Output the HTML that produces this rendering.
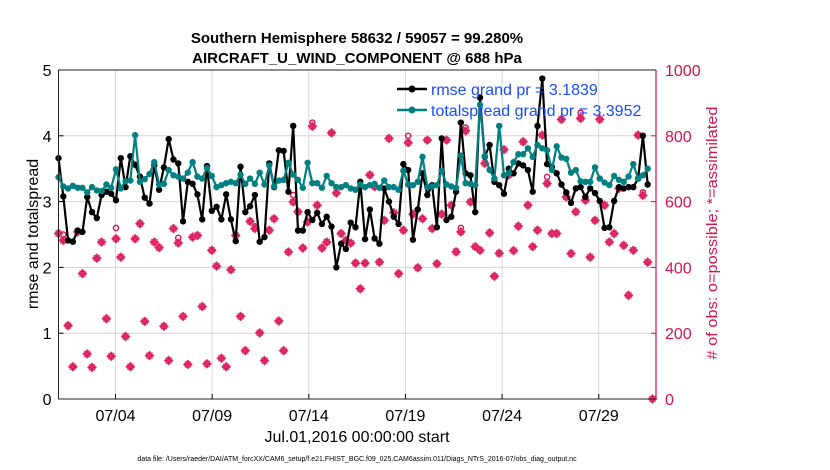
<!DOCTYPE html>
<html><head><meta charset="utf-8"><style>
html,body{margin:0;padding:0;background:#fff;}
svg{display:block;font-family:"Liberation Sans",Arial,sans-serif;}
</style></head><body>
<svg id="chart" width="830" height="470" viewBox="0 0 830 470" xmlns="http://www.w3.org/2000/svg">
<text x="357" y="43" text-anchor="middle" font-size="15" font-weight="bold">Southern Hemisphere 58632 / 59057 = 99.280%</text>
<text x="357" y="63" text-anchor="middle" font-size="15" font-weight="bold">AIRCRAFT_U_WIND_COMPONENT @ 688 hPa</text>
<g id="grid"></g>
<g id="obs"></g>
<g id="lines"></g>
<g id="axes"></g>
<text transform="translate(38,234) rotate(-90)" text-anchor="middle" font-size="16">rmse and totalspread</text>
<text transform="translate(717,233) rotate(-90)" text-anchor="middle" font-size="15" textLength="253" lengthAdjust="spacingAndGlyphs" fill="#d6124f"># of obs: o=possible; *=assimilated</text>
<text x="357" y="442" text-anchor="middle" font-size="16">Jul.01,2016 00:00:00 start</text>
<text x="357" y="461" text-anchor="middle" font-size="7">data file: /Users/raeder/DAI/ATM_forcXX/CAM6_setup/f.e21.FHIST_BGC.f09_025.CAM6assim.011/Diags_NTrS_2016-07/obs_diag_output.nc</text>
<g>
<line x1="397" y1="89" x2="427" y2="89" stroke="#000" stroke-width="2.5"/>
<circle cx="412" cy="89" r="3.5" fill="#000"/>
<text x="431" y="95" font-size="16" fill="#1a4cff">rmse grand pr = 3.1839</text>
<line x1="397" y1="110" x2="427" y2="110" stroke="#008080" stroke-width="2.5"/>
<circle cx="412" cy="110" r="3.5" fill="#008080"/>
<text x="431" y="116" font-size="16" fill="#1a4cff">totalspread grand pr = 3.3952</text>
</g>
</svg>
<script>
const rmse = [3.66,3.08,2.41,2.39,2.56,2.54,3.07,2.84,2.75,3.10,3.15,3.12,3.02,3.66,3.22,3.69,3.56,3.38,3.06,2.97,3.55,3.18,3.52,3.95,3.64,3.58,2.70,3.30,3.27,3.11,2.73,3.54,2.86,2.92,2.73,3.11,2.73,2.40,3.53,2.84,2.93,3.10,2.39,2.46,3.58,3.22,3.78,3.77,3.15,4.15,2.56,2.56,2.84,2.72,2.83,2.66,2.77,2.62,2.00,
2.36,2.28,2.68,2.61,3.30,2.43,2.88,2.44,2.36,3.20,3.00,2.77,2.66,3.57,3.48,2.42,2.88,3.43,3.10,3.25,2.61,3.96,2.72,2.77,3.15,4.20,3.43,3.40,2.84,4.58,3.68,3.86,3.30,3.25,3.12,3.50,3.43,3.58,3.55,3.48,3.15,4.15,4.87,3.57,3.53,3.43,3.26,3.14,2.98,3.20,3.22,3.07,3.20,3.13,3.01,2.60,2.61,3.01,3.22,3.20,3.22,3.22,3.35,4.00,3.26];
const spread = [3.37,3.23,3.20,3.24,3.21,3.21,3.14,3.22,3.17,3.16,3.26,3.21,3.49,3.20,3.31,3.32,4.01,3.30,3.34,3.42,3.60,3.26,3.27,3.48,3.40,3.38,3.35,3.44,3.60,3.38,3.35,3.51,3.39,3.22,3.25,3.28,3.30,3.28,3.41,3.27,3.35,3.27,3.44,3.26,3.55,3.23,3.32,3.33,3.59,3.41,3.33,3.21,3.59,3.28,3.28,3.21,3.39,3.28,3.22,
3.22,3.25,3.20,3.18,3.26,3.22,3.25,3.27,3.21,3.32,3.22,3.22,3.18,3.47,3.26,3.25,3.30,3.68,3.22,3.23,3.25,3.47,3.26,3.23,3.21,3.70,3.28,3.27,3.25,4.47,3.69,3.48,3.35,4.15,3.40,3.43,3.60,3.72,3.72,3.81,3.68,3.86,3.81,3.78,3.48,3.84,3.67,3.65,3.44,3.48,3.31,3.30,3.30,3.52,3.35,3.29,3.25,3.39,3.33,3.30,3.38,3.57,3.35,3.40,3.50];
const assimilated = [503,482,223,98,508,381,137,96,428,477,244,130,487,431,190,98,487,533,236,132,477,460,221,117,518,474,251,105,492,497,281,107,452,404,124,98,393,497,251,147,540,518,201,117,513,548,237,147,447,599,569,459,538,829,589,459,477,809,626,
503,482,474,413,335,413,681,645,416,543,792,566,381,513,779,562,399,548,787,518,411,562,787,589,447,508,815,599,463,452,716,505,373,443,758,681,451,525,782,589,463,513,802,655,503,503,850,614,442,569,853,604,431,543,850,589,477,503,640,467,315,452,802,619,416,0];
const possible = [505,500,223,98,508,381,137,96,428,477,244,130,520,431,190,98,487,533,236,132,477,460,221,117,518,490,251,105,492,497,281,107,452,404,124,98,393,497,251,147,540,525,201,117,513,548,237,147,447,620,569,459,538,840,589,459,477,809,626,
503,482,474,413,335,413,681,645,416,543,792,566,381,513,800,562,399,548,787,518,411,562,787,589,450,520,825,599,463,452,716,505,373,443,758,681,451,525,782,589,463,513,802,675,503,503,850,614,442,569,870,604,431,543,850,589,477,503,640,467,315,452,802,628,416,0];
const leftTicks = [0,1,2,3,4,5];
const rightTicks = [0,200,400,600,800,1000];
const xTickDays = [3,8,13,18,23,28];
const xTickLabels = ["07/04","07/09","07/14","07/19","07/24","07/29"];

const X0 = 58.5, X1 = 656, Y0 = 399, Y1 = 70;
const DAY = 19.33;
const STEP = 4.79;
function xIdx(i){ return X0 + i*STEP; }
function xDay(d){ return 57.5 + d*DAY; }
function yL(v){ return Y0 - (v/5)*(Y0-Y1); }
function yR(v){ return Y0 - (v/1000)*(Y0-Y1); }
const NS = "http://www.w3.org/2000/svg";
function mk(tag, attrs, parent){ const e=document.createElementNS(NS,tag); for(const k in attrs) e.setAttribute(k,attrs[k]); parent.appendChild(e); return e; }

const grid = document.getElementById('grid');
const axes = document.getElementById('axes');
const obs = document.getElementById('obs');
const lines = document.getElementById('lines');

leftTicks.forEach((t,i)=>{
  if(t>0 && t<5){
    const g = mk('line',{x1:X0,x2:X1,y1:yL(t),y2:yL(t),stroke:'#ecc8d6','stroke-width':1},grid);
    
    
  }
  const tk = mk('line',{x1:X0,x2:X0+5,y1:yL(t),y2:yL(t),stroke:'#000'},axes);
  
  
  const tl = mk('text',{x:X0-7,y:yL(t)+6,'text-anchor':'end','font-size':16},axes);
  tl.textContent = t;
  
  
});
rightTicks.forEach(t=>{
  const tk = mk('line',{x1:X1-5,x2:X1,y1:yR(t),y2:yR(t),stroke:'#d6124f'},axes);
  
  
  const tl = mk('text',{x:X1+9,y:yR(t)+6,'font-size':16,fill:'#d6124f'},axes);
  tl.textContent = t;
  
  
});
xTickDays.forEach((d,i)=>{
  const x = xDay(d);
  const g = mk('line',{x1:x,x2:x,y1:Y1,y2:Y0,stroke:'#d8d8d8'},grid);
  
  
  const tk = mk('line',{x1:x,x2:x,y1:Y0,y2:Y0-5,stroke:'#000'},axes);
  
  
  const tl = mk('text',{x:x,y:421,'text-anchor':'middle','font-size':16},axes);
  tl.textContent = xTickLabels[i];
  
  
});
const frame = mk('path',{d:`M${X1},${Y1} L${X0},${Y1} L${X0},${Y0} L${X1},${Y0}`,fill:'none',stroke:'#222','stroke-width':1},axes);


const rax = mk('line',{x1:X1,x2:X1,y1:Y1,y2:Y0,stroke:'#d6124f','stroke-width':1.2},axes);



possible.forEach((v,i)=>{
  const c = mk('circle',{cx:xIdx(i),cy:yR(v),r:2.6,fill:'none',stroke:'#d6124f','stroke-width':1.4},obs);
  
  
});
assimilated.forEach((v,i)=>{
  const x=xIdx(i), y=yR(v), s=4.2, c=3;
  const p = mk('path',{d:`M${x-s},${y} L${x},${y-s} L${x+s},${y} L${x},${y+s} Z M${x-c},${y-c} L${x+c},${y+c} M${x-c},${y+c} L${x+c},${y-c}`,fill:'#d6124f',stroke:'#e03a74','stroke-width':1.1},obs);
  
  
});

function series(arr,color,name){
  const pts = arr.map((v,i)=>`${xIdx(i).toFixed(1)},${yL(v).toFixed(1)}`).join(' ');
  const pl = mk('polyline',{points:pts,fill:'none',stroke:color,'stroke-width':2.2,'stroke-linejoin':'round'},lines);
  
  
  arr.forEach((v,i)=>{
    const c = mk('circle',{cx:xIdx(i),cy:yL(v),r:3.2,fill:color},lines);
    
    
  });
}
series(rmse,'#000','rmse');
series(spread,'#008080','totalspread');
</script>
</body></html>
